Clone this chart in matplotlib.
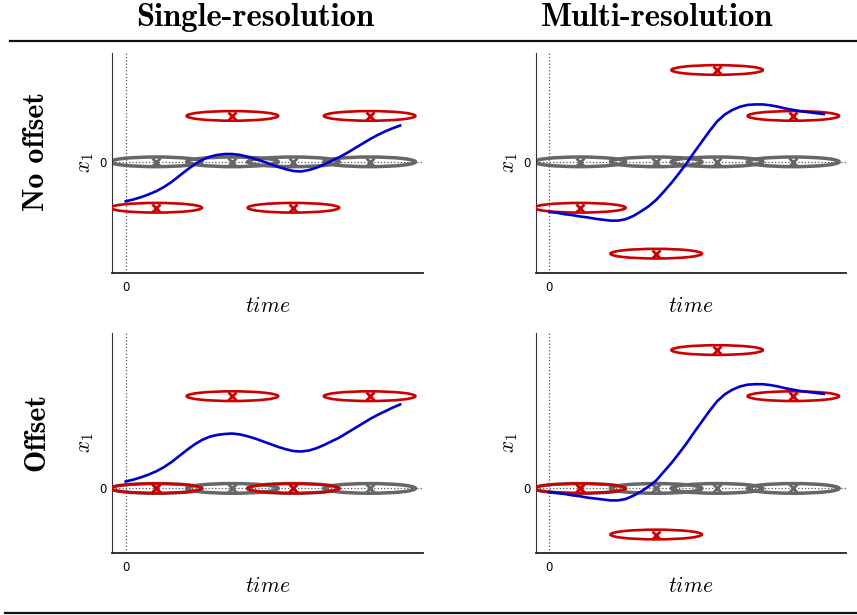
import numpy as np
import matplotlib
matplotlib.use("Agg")
import matplotlib.pyplot as plt
from matplotlib.patches import Ellipse
from matplotlib.lines import Line2D

plt.rcParams["mathtext.fontset"] = "cm"

# centres of the observation ellipses (time) and the mean curves
t_obs = [1, 3.5, 5.5, 8]
t_curve = [0, 0.25, 0.5, 0.75, 1, 1.25, 1.5, 1.75, 2, 2.25, 2.5, 2.75, 3, 3.25,
           3.5, 3.75, 4, 4.25, 4.5, 4.75, 5, 5.25, 5.5, 5.75, 6, 6.25, 6.5, 6.75,
           7, 7.25, 7.5, 7.75, 8, 8.25, 8.5, 8.75, 9]

col_titles = ["Single-resolution", "Multi-resolution"]
row_titles = ["No offset", "Offset"]

# red observation levels per panel
red_single_nooff = [-1, 1, -1, 1]
red_multi_nooff = [-1, -2, 2, 1]
red_single_off = [0, 2, 0, 2]
red_multi_off = [0, -1, 3, 2]
gray_level = [0, 0, 0, 0]

# blue mean curves
mean_single_nooff = [-0.86, -0.82, -0.77, -0.71, -0.64, -0.55, -0.44, -0.31, -0.18,
                     -0.06, 0.04, 0.11, 0.15, 0.17, 0.17, 0.15, 0.11, 0.06, 0.01,
                     -0.05, -0.11, -0.16, -0.20, -0.21, -0.18, -0.13, -0.06, 0.02,
                     0.10, 0.19, 0.29, 0.39, 0.49, 0.58, 0.66, 0.73, 0.79]
mean_multi_nooff = [-1.09, -1.11, -1.14, -1.16, -1.19, -1.21, -1.24, -1.26, -1.28,
                    -1.28, -1.25, -1.18, -1.08, -0.97, -0.83, -0.65, -0.46, -0.25,
                    -0.03, 0.21, 0.44, 0.67, 0.88, 1.03, 1.13, 1.20, 1.24, 1.25,
                    1.25, 1.23, 1.20, 1.16, 1.13, 1.10, 1.08, 1.06, 1.04]
mean_single_off = [0.15, 0.19, 0.24, 0.30, 0.37, 0.46, 0.57, 0.70, 0.83,
                   0.95, 1.05, 1.12, 1.16, 1.18, 1.19, 1.17, 1.13, 1.08, 1.02,
                   0.96, 0.90, 0.85, 0.81, 0.80, 0.82, 0.87, 0.94, 1.02,
                   1.10, 1.20, 1.30, 1.40, 1.50, 1.59, 1.67, 1.75, 1.82]
mean_multi_off = [-0.08, -0.10, -0.12, -0.15, -0.17, -0.20, -0.22, -0.24, -0.26,
                  -0.26, -0.23, -0.16, -0.07, 0.04, 0.17, 0.36, 0.55, 0.76,
                  0.98, 1.22, 1.45, 1.68, 1.89, 2.04, 2.14, 2.21, 2.25, 2.26,
                  2.26, 2.24, 2.21, 2.17, 2.14, 2.11, 2.09, 2.07, 2.05]

RED = "#cc0000"
GRAY = "#666666"
BLUE = "#0000cc"

fig = plt.figure(figsize=(8.57, 6.15), dpi=100)

W, H = 857, 615
ax_w, ax_h = 310.7, 219.5
lefts = [112, 535.7]
tops = [53, 333]

panels = [
    (0, 0, red_single_nooff, mean_single_nooff, (-2.41, 2.37)),
    (0, 1, red_multi_nooff, mean_multi_nooff, (-2.41, 2.37)),
    (1, 0, red_single_off, mean_single_off, (-1.39, 3.37)),
    (1, 1, red_multi_off, mean_multi_off, (-1.39, 3.37)),
]

for r, c, red, mean, ylim in panels:
    ax = fig.add_axes([lefts[c] / W, 1 - (tops[r] + ax_h) / H, ax_w / W, ax_h / H])
    ax.set_xlim(-0.45, 9.74)
    ax.set_ylim(*ylim)
    for s in ["top", "right"]:
        ax.spines[s].set_visible(False)
    ax.spines["left"].set_color("#333333")
    ax.spines["bottom"].set_color("#222222")
    ax.spines["bottom"].set_linewidth(1.3)

    ax.axvline(0, color="#555555", ls=":", lw=0.9, zorder=1)
    ax.axhline(0, color="#555555", ls=":", lw=0.9, zorder=1)

    for t, y in zip(t_obs, gray_level):
        ax.add_patch(Ellipse((t, y), 3.0, 0.21, fill=False, ec=GRAY, lw=2.5, zorder=2))
    ax.plot(t_obs, gray_level, ls="none", marker="x", ms=6, mew=2, color=GRAY, zorder=2)

    for t, y in zip(t_obs, red):
        ax.add_patch(Ellipse((t, y), 3.0, 0.21, fill=False, ec=RED, lw=1.9, zorder=3))
    ax.plot(t_obs, red, ls="none", marker="x", ms=6, mew=2, color=RED, zorder=3)

    ax.plot(t_curve, mean, color=BLUE, lw=1.9, zorder=4)

    ax.set_xticks([0])
    ax.set_yticks([0])
    ax.tick_params(length=0, labelsize=8.5)
    ax.tick_params(axis="x", pad=6)
    ax.tick_params(axis="y", pad=4)
    ax.set_xlabel(r"$time$", fontsize=15.5, labelpad=1.5)
    ax.set_ylabel(r"$x_1$", fontsize=15.5, labelpad=2)

title_x = [255 / W, 657 / W]
for x, txt in zip(title_x, col_titles):
    fig.text(x, 1 - 18 / H, txt, family="cmb10", fontsize=23.5, ha="center", va="center")

row_y = [151 / H, 432 / H]
for y, txt in zip(row_y, row_titles):
    fig.text(37 / W, 1 - y, txt, family="cmb10", fontsize=21.5, rotation=90,
             ha="center", va="center")

fig.add_artist(Line2D([10 / W, 1], [1 - 41 / H] * 2, color="#111111", lw=1.6))
fig.add_artist(Line2D([5 / W, 1], [1 - 613 / H] * 2, color="#111111", lw=1.6))

fig.savefig("out.png", dpi=100)
